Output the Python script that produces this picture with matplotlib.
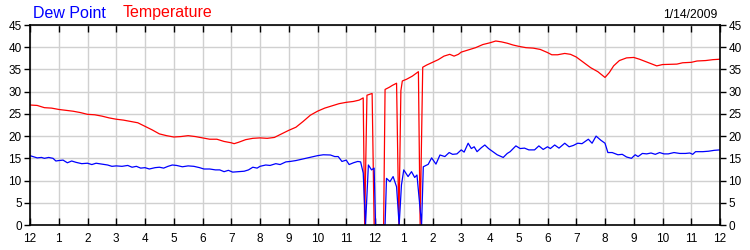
import matplotlib.pyplot as plt

# hours since midnight
temp_hours = [0, 0.25, 0.5, 0.75, 1.0, 1.25, 1.5, 1.75, 2.0, 2.25, 2.5, 2.75, 3.0, 3.25, 3.5, 3.75,
              4.0, 4.25, 4.5, 4.75, 5.0, 5.25, 5.5, 5.75, 6.0, 6.25, 6.5, 6.75, 7.0, 7.1, 7.25, 7.5,
              7.75, 8.0, 8.25, 8.5, 8.75, 9.0, 9.25, 9.5, 9.75, 10.0, 10.25, 10.5, 10.75, 11.0, 11.25,
              11.45, 11.59, 11.64, 11.72, 11.9, 11.97, 12.3, 12.35, 12.5, 12.6, 12.75, 12.83, 12.9,
              12.95, 13.1, 13.3, 13.51, 13.57, 13.66, 13.8, 14.0, 14.2, 14.4, 14.6, 14.75, 14.9, 15.0,
              15.25, 15.5, 15.75, 16.0, 16.2, 16.4, 16.6, 16.8, 17.0, 17.25, 17.5, 17.75, 18.0, 18.15,
              18.35, 18.6, 18.8, 19.0, 19.25, 19.5, 19.75, 20.0, 20.15, 20.3, 20.5, 20.75, 21.0, 21.2,
              21.4, 21.6, 21.8, 22.0, 22.5, 22.7, 23.0, 23.2, 23.5, 23.75, 24.0]
temperature = [27.0, 26.9, 26.4, 26.3, 26.0, 25.8, 25.6, 25.3, 24.9, 24.8, 24.5, 24.1, 23.8, 23.6, 23.3, 23.0,
               22.2, 21.4, 20.5, 20.1, 19.8, 19.9, 20.1, 19.9, 19.6, 19.3, 19.3, 18.8, 18.5, 18.3, 18.6, 19.2,
               19.5, 19.6, 19.5, 19.7, 20.5, 21.3, 22.0, 23.3, 24.7, 25.6, 26.3, 26.8, 27.3, 27.6, 27.8,
               28.1, 28.6, 0, 29.2, 29.6, 0, 0, 30.5, 31.0, 31.4, 31.9, 0, 30.2,
               32.4, 32.8, 33.5, 34.5, 0, 35.5, 36.0, 36.6, 37.2, 38.0, 38.4, 38.0, 38.4, 38.9,
               39.4, 39.9, 40.6, 41.0, 41.4, 41.2, 40.9, 40.5, 40.2, 39.9, 39.8, 39.5, 38.8, 38.3,
               38.3, 38.6, 38.4, 37.8, 36.6, 35.4, 34.5, 33.2, 34.3, 35.8, 37.0, 37.6, 37.7, 37.3,
               36.8, 36.3, 35.8, 36.1, 36.2, 36.5, 36.6, 36.9, 37.0, 37.2, 37.3]

dew_hours = [0, 0.1, 0.25, 0.4, 0.5, 0.65, 0.8, 0.9, 1.0, 1.15, 1.3, 1.45, 1.6, 1.8, 2.0, 2.15, 2.3, 2.5,
             2.7, 2.85, 3.0, 3.2, 3.4, 3.55, 3.7, 3.85, 4.0, 4.15, 4.35, 4.5, 4.65, 4.8, 4.95, 5.1, 5.3,
             5.5, 5.7, 5.9, 6.05, 6.25, 6.45, 6.6, 6.75, 6.9, 7.05, 7.25, 7.45, 7.6, 7.75, 7.9, 8.0, 8.2,
             8.35, 8.55, 8.7, 8.9, 9.05, 9.25, 9.45, 9.6, 9.8, 10.0, 10.2, 10.45, 10.6, 10.72, 10.85, 11.0,
             11.1, 11.25, 11.4, 11.5, 11.59, 11.67, 11.77, 11.88, 11.97, 12.02, 12.35, 12.4, 12.52, 12.63,
             12.75, 12.84, 12.92, 13.0, 13.15, 13.27, 13.38, 13.46, 13.62, 13.68, 13.85, 13.97, 14.12,
             14.26, 14.43, 14.58, 14.7, 14.85, 15.0, 15.1, 15.24, 15.35, 15.45, 15.55, 15.7, 15.82, 15.95,
             16.1, 16.25, 16.46, 16.6, 16.7, 16.9, 17.05, 17.2, 17.35, 17.55, 17.7, 17.85, 18.0, 18.1,
             18.25, 18.4, 18.6, 18.75, 18.9, 19.05, 19.2, 19.42, 19.55, 19.69, 19.85, 20.0, 20.1, 20.25,
             20.45, 20.6, 20.75, 20.92, 21.05, 21.15, 21.3, 21.45, 21.6, 21.75, 21.9, 22.05, 22.2, 22.4,
             22.6, 22.8, 22.95, 23.05, 23.15, 23.4, 23.6, 23.8, 24.0]
dew_point = [15.6, 15.4, 15.1, 15.2, 15.0, 15.2, 15.0, 14.4, 14.5, 14.6, 14.0, 14.4, 14.1, 13.8, 13.9, 13.6, 13.9, 13.7,
             13.5, 13.2, 13.3, 13.2, 13.4, 13.0, 13.2, 12.8, 12.9, 12.6, 12.9, 13.0, 12.8, 13.2, 13.5, 13.4, 13.1,
             13.3, 13.2, 12.9, 12.6, 12.6, 12.4, 12.4, 12.0, 12.3, 11.9, 12.0, 12.1, 12.4, 13.0, 12.8, 13.2, 13.5,
             13.4, 13.8, 13.6, 14.2, 14.3, 14.5, 14.8, 15.0, 15.3, 15.6, 15.8, 15.75, 15.4, 15.4, 14.3, 14.6,
             13.6, 14.0, 14.3, 14.2, 11.7, 0, 13.5, 12.4, 12.8, 0, 0, 10.5, 9.75, 10.9,
             8.6, 0, 9.0, 12.4, 10.9, 12.0, 10.7, 11.25, 0, 13.1, 13.65, 15.1, 13.7,
             15.75, 15.4, 16.3, 15.9, 16.0, 16.9, 16.4, 18.4, 17.2, 17.6, 16.5, 17.4, 18.0, 17.2,
             16.5, 15.8, 15.2, 16.1, 16.5, 17.8, 17.2, 17.3, 16.9, 16.9, 17.8, 17.0, 17.6, 17.2,
             18.0, 17.3, 18.4, 17.6, 17.9, 18.4, 18.3, 19.3, 18.4, 20.0, 19.1, 18.4, 16.3, 16.3,
             15.8, 15.9, 15.3, 15.0, 15.8, 15.4, 16.1, 16.0, 16.2, 15.9, 16.3, 16.0, 16.0, 16.3,
             16.1, 16.1, 16.2, 15.9, 16.5, 16.5, 16.6, 16.8, 16.9]

hour_labels = ['12', '1', '2', '3', '4', '5', '6', '7', '8', '9', '10', '11',
               '12', '1', '2', '3', '4', '5', '6', '7', '8', '9', '10', '11', '12']
y_ticks = [0, 5, 10, 15, 20, 25, 30, 35, 40, 45]

plt.rcParams['font.family'] = ['Liberation Sans', 'DejaVu Sans']

fig = plt.figure(figsize=(7.5, 2.5), dpi=100)
ax = fig.add_axes([0.04, 0.1, 0.92, 0.8])

ax.plot(temp_hours, temperature, color='#ff0000', linewidth=0.9)
ax.plot(dew_hours, dew_point, color='#0000ff', linewidth=0.9)

ax.set_xlim(0, 24)
ax.set_ylim(0, 45)
ax.set_xticks(range(25))
ax.set_xticklabels(hour_labels)
ax.set_yticks(y_ticks)
ax.grid(True, color='#d0d0d0', linewidth=1)
ax.set_axisbelow(True)

ax.tick_params(axis='x', direction='in', top=True, length=5, width=1, labelsize=8.5, pad=6)
ax.tick_params(axis='y', direction='out', right=True, labelright=True, length=4, width=1,
               labelsize=8.5, pad=2)
for s in ax.spines.values():
    s.set_linewidth(1.2)
    s.set_color('black')

fig.text(0.044, 0.93, 'Dew Point', color='#0000ff', fontsize=11.5, ha='left', va='baseline')
fig.text(0.164, 0.93, 'Temperature', color='#ff0000', fontsize=11.5, ha='left', va='baseline')
fig.text(0.957, 0.93, '1/14/2009', color='black', fontsize=8.8, ha='right', va='baseline')

fig.savefig('out.png', dpi=100)
